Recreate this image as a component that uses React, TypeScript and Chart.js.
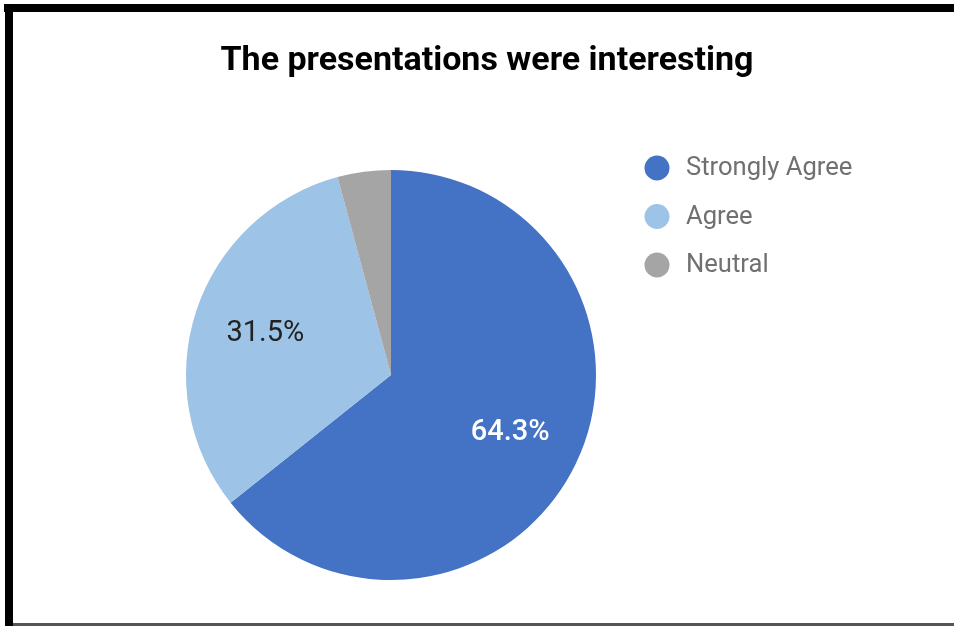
import React, { useEffect, useRef } from "react";
import { Chart, registerables } from "chart.js";

Chart.register(...registerables);

const TITLE = "The presentations were interesting";
const categories = ["Strongly Agree", "Agree", "Neutral"];
const values = [64.3, 31.5, 4.2];
const sliceColors = ["#4472C4", "#9DC3E6", "#A5A5A5"];
const labelColors = ["#FFFFFF", "#222222", "#222222"];
const labelWeights = ["500", "400", "400"];
const showLabel = [true, true, false];

const FONT = "Roboto, 'Noto Sans', sans-serif";

const overlayPlugin = {
  id: "overlay",
  afterDraw(chart: any) {
    const ctx = chart.ctx;
    ctx.save();
    // title
    ctx.fillStyle = "#000000";
    ctx.font = `bold 34px ${FONT}`;
    ctx.textAlign = "center";
    ctx.textBaseline = "middle";
    ctx.fillText(TITLE, 487, 61);

    // slice labels
    const meta = chart.getDatasetMeta(0);
    const total = values.reduce((a, b) => a + b, 0);
    meta.data.forEach((arc: any, i: number) => {
      if (!showLabel[i]) return;
      const mid = (arc.startAngle + arc.endAngle) / 2;
      const r = arc.outerRadius * 0.645;
      const x = arc.x + Math.cos(mid) * r;
      const y = arc.y + Math.sin(mid) * r;
      ctx.fillStyle = labelColors[i];
      ctx.font = `${labelWeights[i]} 29px ${FONT}`;
      ctx.textAlign = "center";
      ctx.textBaseline = "middle";
      ctx.fillText(((values[i] / total) * 100).toFixed(1) + "%", x, y);
    });

    // legend
    categories.forEach((c, i) => {
      const cy = 168 + i * 48.5;
      ctx.beginPath();
      ctx.fillStyle = sliceColors[i];
      ctx.arc(657, cy, 12.5, 0, Math.PI * 2);
      ctx.fill();
      ctx.fillStyle = "#707070";
      ctx.font = `25.6px ${FONT}`;
      ctx.textAlign = "left";
      ctx.textBaseline = "middle";
      ctx.fillText(c, 686, cy + 1);
    });
    ctx.restore();
  },
};

export default function App() {
  const ref = useRef<HTMLCanvasElement | null>(null);
  useEffect(() => {
    document.body.style.margin = "0";
    const chart = new Chart(ref.current!, {
      type: "pie",
      data: {
        labels: categories,
        datasets: [
          {
            data: values,
            backgroundColor: sliceColors,
            borderWidth: 0,
          },
        ],
      },
      options: {
        animation: false,
        responsive: false,
        maintainAspectRatio: false,
        layout: { padding: { left: 186, right: 358, top: 169, bottom: 45 } },
        plugins: {
          legend: { display: false },
          title: { display: false },
          tooltip: { enabled: false },
        },
      },
      plugins: [overlayPlugin],
    });
    return () => chart.destroy();
  }, []);

  return (
    <div style={{ position: "relative", width: 954, height: 626, background: "#fff", overflow: "hidden" }}>
      <canvas ref={ref} width={954} height={626} style={{ position: "absolute", left: 0, top: 0 }} />
      <div style={{ position: "absolute", left: 4, top: 4, width: 950, height: 8, background: "#000" }} />
      <div style={{ position: "absolute", left: 5, top: 4, width: 8, height: 622, background: "#000" }} />
      <div style={{ position: "absolute", left: 13, top: 623, width: 941, height: 3, background: "#555" }} />
    </div>
  );
}
